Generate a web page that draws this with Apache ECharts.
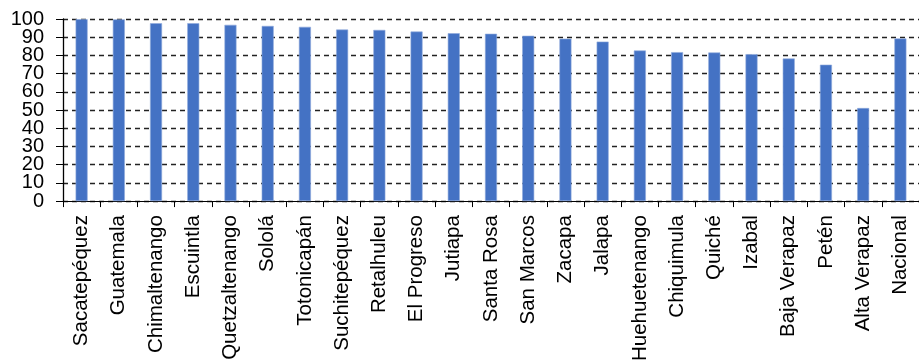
<!DOCTYPE html>
<html>
<head>
<meta charset="utf-8">
<script src="https://cdn.jsdelivr.net/npm/echarts@6/dist/echarts.min.js"></script>
<style>
  html, body { margin: 0; padding: 0; background: #ffffff; }
  #chart { width: 919px; height: 364px; }
</style>
</head>
<body>
<div id="chart"></div>
<script>
// Departments of Guatemala plus the national figure
const departamentos = [
  'Sacatepéquez', 'Guatemala', 'Chimaltenango', 'Escuintla', 'Quetzaltenango',
  'Sololá', 'Totonicapán', 'Suchitepéquez', 'Retalhuleu', 'El Progreso',
  'Jutiapa', 'Santa Rosa', 'San Marcos', 'Zacapa', 'Jalapa',
  'Huehuetenango', 'Chiquimula', 'Quiché', 'Izabal', 'Baja Verapaz',
  'Petén', 'Alta Verapaz', 'Nacional'
];

// Percentage per department
const porcentajes = [
  99.9, 99.8, 97.7, 97.7, 96.8,
  96.2, 95.7, 94.2, 94.0, 93.1,
  92.2, 91.9, 90.8, 89.2, 87.6,
  82.7, 81.8, 81.6, 80.7, 78.3,
  74.9, 51.1, 89.3
];

// Value axis ticks
const yMin = 0;
const yMax = 100;
const yStep = 10;

const chart = echarts.init(document.getElementById('chart'), null, { renderer: 'canvas' });

const textFont = 'Liberation Sans, Arial, sans-serif';
const yLabelStyle = {
  margin: 19,
  color: '#000000',
  fontSize: 20,
  fontFamily: textFont
};

// The tick labels sit closer together than their own height, so the
// odd and even decades are carried by two stacked axes on the same scale;
// this keeps the library from dropping any of them as overlapping.
chart.setOption({
  animation: false,
  backgroundColor: '#ffffff',
  grid: {
    left: 63,
    top: 19,
    width: 864,
    height: 185,
    containLabel: false
  },
  xAxis: {
    type: 'category',
    data: departamentos,
    boundaryGap: true,
    axisLine: { show: true, lineStyle: { color: '#000000', width: 1 } },
    axisTick: { show: true, length: 6, inside: false, lineStyle: { color: '#000000', width: 1 } },
    axisLabel: {
      interval: 0,
      rotate: 90,
      margin: 14,
      color: '#000000',
      fontSize: 20.5,
      fontFamily: textFont,
      hideOverlap: false
    },
    splitLine: { show: false }
  },
  yAxis: [
    {
      type: 'value',
      position: 'left',
      offset: 0,
      min: yMin,
      max: yMax,
      interval: yStep,
      axisLine: { show: true, lineStyle: { color: '#000000', width: 1.3 } },
      axisTick: { show: true, length: 7, lineStyle: { color: '#000000', width: 1 } },
      axisLabel: Object.assign({}, yLabelStyle, {
        formatter: function (v) { return (v / yStep) % 2 === 1 ? String(v) : ''; }
      }),
      splitLine: {
        show: true,
        lineStyle: { color: '#222222', width: 1.3, type: [5, 4] }
      }
    },
    {
      type: 'value',
      position: 'left',
      offset: 0,
      min: yMin,
      max: yMax,
      interval: yStep * 2,
      axisLine: { show: false },
      axisTick: { show: false },
      axisLabel: yLabelStyle,
      splitLine: { show: false }
    }
  ],
  series: [{
    type: 'bar',
    yAxisIndex: 0,
    data: porcentajes,
    barWidth: 12,
    itemStyle: {
      color: '#4472C4',
      borderColor: '#8faadc',
      borderWidth: 0.6
    }
  }]
});
</script>
</body>
</html>
